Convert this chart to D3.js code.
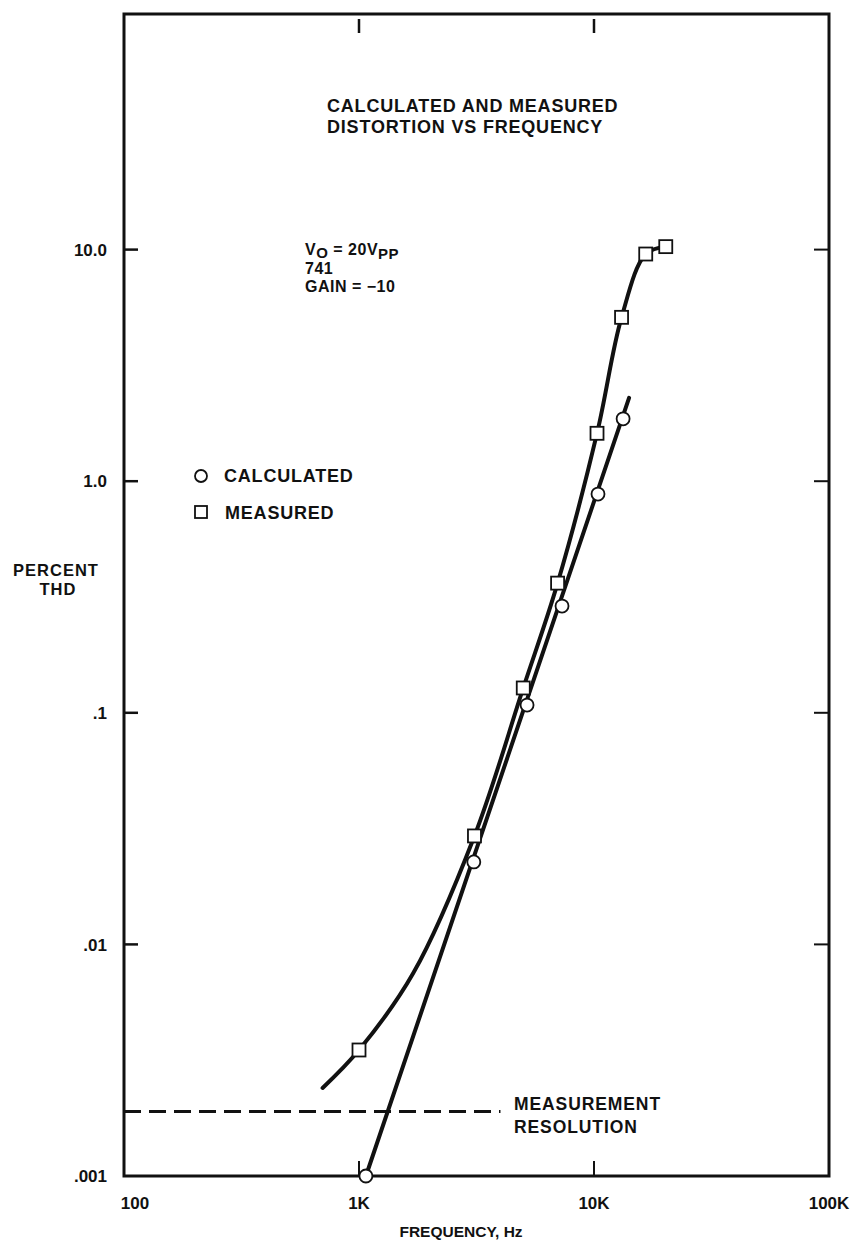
<!DOCTYPE html>
<html>
<head>
<meta charset="utf-8">
<script src="https://cdn.jsdelivr.net/npm/d3@7"></script>
<style>
  html, body { margin: 0; padding: 0; background: #fff; }
  svg { display: block; }
  text { font-family: "Liberation Sans", Arial, Helvetica, sans-serif; font-weight: bold; fill: #111; }
</style>
</head>
<body>
<svg id="chart" width="857" height="1248"></svg>
<script>
// Frequency axis ticks (Hz) and their labels
const freqTicks = [100, 1000, 10000, 100000];
const freqTickLabels = ["100", "1K", "10K", "100K"];

// Percent THD axis ticks and their labels
const thdTicks = [0.001, 0.01, 0.1, 1, 10];
const thdTickLabels = [".001", ".01", ".1", "1.0", "10.0"];

// Calculated distortion points (Hz, %THD)
const calcFreq = [1070, 3080, 5190, 7310, 10400, 13300];
const calcPct  = [0.001, 0.0227, 0.108, 0.289, 0.88, 1.86];

// Straight-line fit through the calculated values
const calcLineFreq = [1070, 14100];
const calcLinePct  = [0.001, 2.29];

// Measured distortion points (Hz, %THD)
const measFreq = [1000, 3100, 5000, 7000, 10300, 13100, 16600, 20200];
const measPct  = [0.0035, 0.0294, 0.128, 0.363, 1.61, 5.1, 9.57, 10.3];

// Hand-drawn curve through the measured values
const measCurveFreq = [700, 1000, 1700, 3100, 5000, 7000, 10300, 13100, 16600, 20200];
const measCurvePct  = [0.0024, 0.0035, 0.0075, 0.0294, 0.128, 0.363, 1.61, 5.1, 9.57, 10.3];

// Measurement resolution floor (%THD) and the frequency span it is drawn over
const resolutionPct = 0.0019;
const resolutionFreq = [100, 4000];

const svg = d3.select("#chart");

const plot = { left: 124, right: 829, top: 14, bottom: 1176 };

const x = d3.scaleLog().domain([100, 100000]).range([plot.left, plot.right]);
const y = d3.scaleLog().domain([0.001, 100]).range([plot.bottom, 18]);

// Frame
svg.append("rect")
  .attr("x", plot.left).attr("y", plot.top)
  .attr("width", plot.right - plot.left)
  .attr("height", plot.bottom - plot.top)
  .attr("fill", "none").attr("stroke", "#111").attr("stroke-width", 3);

// Inner ticks: bottom & top
const innerX = freqTicks.slice(1, -1);
svg.append("g").selectAll("line").data(innerX).join("line")
  .attr("x1", d => x(d)).attr("x2", d => x(d))
  .attr("y1", plot.bottom).attr("y2", plot.bottom - 15)
  .attr("stroke", "#111").attr("stroke-width", 2);
svg.append("g").selectAll("line").data(innerX).join("line")
  .attr("x1", d => x(d)).attr("x2", d => x(d))
  .attr("y1", plot.top + 5).attr("y2", plot.top + 19)
  .attr("stroke", "#111").attr("stroke-width", 2.5);

// Inner ticks: left & right
const innerY = thdTicks.slice(1);
svg.append("g").selectAll("line").data(innerY).join("line")
  .attr("x1", plot.left).attr("x2", plot.left + 14)
  .attr("y1", d => y(d)).attr("y2", d => y(d))
  .attr("stroke", "#111").attr("stroke-width", 2.5);
svg.append("g").selectAll("line").data(innerY).join("line")
  .attr("x1", plot.right).attr("x2", plot.right - 15)
  .attr("y1", d => y(d)).attr("y2", d => y(d))
  .attr("stroke", "#111").attr("stroke-width", 2);

// Tick labels
svg.append("g").selectAll("text").data(thdTicks).join("text")
  .attr("x", 107).attr("y", d => y(d)).attr("dy", "0.36em")
  .attr("text-anchor", "end").attr("font-size", 17)
  .text((d, i) => thdTickLabels[i]);

svg.append("g").selectAll("text").data(freqTicks).join("text")
  .attr("x", d => x(d) + (d === 100 ? 11 : 0)).attr("y", 1209)
  .attr("text-anchor", "middle").attr("font-size", 17)
  .text((d, i) => freqTickLabels[i]);

// Axis titles
svg.append("text").attr("x", 461).attr("y", 1237)
  .attr("text-anchor", "middle").attr("font-size", 15.5)
  .text("FREQUENCY, Hz");
const yt = svg.append("text").attr("text-anchor", "middle").attr("font-size", 16.5).attr("letter-spacing", 1);
yt.append("tspan").attr("x", 56).attr("y", 576).text("PERCENT");
yt.append("tspan").attr("x", 58).attr("y", 595).text("THD");

// Measurement resolution (dashed)
svg.append("line")
  .attr("x1", x(resolutionFreq[0])).attr("x2", x(resolutionFreq[1]))
  .attr("y1", y(resolutionPct)).attr("y2", y(resolutionPct))
  .attr("stroke", "#111").attr("stroke-width", 3)
  .attr("stroke-dasharray", "17,8");
const rt = svg.append("text").attr("font-size", 17.5).attr("letter-spacing", 0.9);
rt.append("tspan").attr("x", 514).attr("y", 1110).text("MEASUREMENT");
rt.append("tspan").attr("x", 514).attr("y", 1133).text("RESOLUTION");

// Curves
const line = d3.line().x(d => x(d[0])).y(d => y(d[1]));
svg.append("path")
  .datum(calcLineFreq.map((f, i) => [f, calcLinePct[i]]))
  .attr("d", line)
  .attr("fill", "none").attr("stroke", "#111").attr("stroke-width", 4)
  .attr("stroke-linecap", "round");
svg.append("path")
  .datum(measCurveFreq.map((f, i) => [f, measCurvePct[i]]))
  .attr("d", line.curve(d3.curveCatmullRom.alpha(0.5)))
  .attr("fill", "none").attr("stroke", "#111").attr("stroke-width", 4)
  .attr("stroke-linecap", "round");

// Markers
svg.append("g").selectAll("circle").data(calcFreq).join("circle")
  .attr("cx", d => x(d)).attr("cy", (d, i) => y(calcPct[i])).attr("r", 6.5)
  .attr("fill", "#fff").attr("stroke", "#111").attr("stroke-width", 1.8);
svg.append("g").selectAll("rect").data(measFreq).join("rect")
  .attr("x", d => x(d) - 6.5).attr("y", (d, i) => y(measPct[i]) - 6.5)
  .attr("width", 13).attr("height", 13)
  .attr("fill", "#fff").attr("stroke", "#111").attr("stroke-width", 1.8);

// Title
const title = svg.append("text").attr("font-size", 18).attr("letter-spacing", 0.8);
title.append("tspan").attr("x", 327).attr("y", 112).text("CALCULATED AND MEASURED");
title.append("tspan").attr("x", 327).attr("y", 133).text("DISTORTION VS FREQUENCY");

// Test conditions
const cond = svg.append("text").attr("font-size", 16).attr("letter-spacing", 0.5);
const l1 = cond.append("tspan").attr("x", 305).attr("y", 255);
l1.append("tspan").text("V");
l1.append("tspan").attr("dy", 3).attr("font-size", 15).text("O");
l1.append("tspan").attr("dy", -3).text(" = 20V");
l1.append("tspan").attr("dy", 4).attr("font-size", 15).text("PP");
cond.append("tspan").attr("x", 305).attr("y", 274).text("741");
cond.append("tspan").attr("x", 305).attr("y", 292).text("GAIN = \u221210");

// Legend
const legend = svg.append("g");
legend.append("circle").attr("cx", 201).attr("cy", 476).attr("r", 6)
  .attr("fill", "#fff").attr("stroke", "#111").attr("stroke-width", 1.8);
legend.append("rect").attr("x", 195).attr("y", 506).attr("width", 12).attr("height", 12)
  .attr("fill", "#fff").attr("stroke", "#111").attr("stroke-width", 1.8);
legend.append("text").attr("x", 224).attr("y", 482).attr("font-size", 18).attr("letter-spacing", 0.8).text("CALCULATED");
legend.append("text").attr("x", 225).attr("y", 519).attr("font-size", 18).attr("letter-spacing", 0.8).text("MEASURED");
</script>
</body>
</html>
